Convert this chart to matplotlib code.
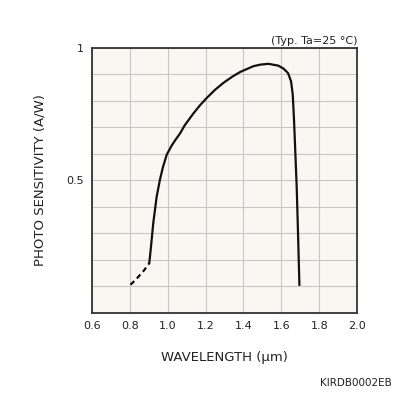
import matplotlib
matplotlib.use("Agg")
import matplotlib.pyplot as plt

# measured curve (wavelength in um, sensitivity in A/W)
dash_wl = [0.804, 0.84, 0.875, 0.903]
dash_s = [0.106, 0.132, 0.160, 0.188]

wl = [0.903, 0.912, 0.924, 0.942, 0.959, 0.975, 0.995, 1.020, 1.040, 1.065,
      1.090, 1.135, 1.170, 1.206, 1.250, 1.294, 1.340, 1.382, 1.452, 1.490,
      1.531, 1.584, 1.611, 1.635, 1.651, 1.660, 1.667, 1.674, 1.681, 1.688,
      1.695]
sens = [0.188, 0.250, 0.339, 0.439, 0.502, 0.550, 0.597, 0.630, 0.652, 0.677,
        0.708, 0.752, 0.783, 0.811, 0.842, 0.868, 0.891, 0.909, 0.931, 0.937,
        0.940, 0.933, 0.922, 0.905, 0.874, 0.824, 0.723, 0.597, 0.471, 0.295,
        0.106]

xticks = [0.6, 0.8, 1.0, 1.2, 1.4, 1.6, 1.8, 2.0]
xlabels = ["0.6", "0.8", "1.0", "1.2", "1.4", "1.6", "1.8", "2.0"]

fig = plt.figure(figsize=(3.96, 3.96), dpi=100)
ax = fig.add_axes([0.232, 0.21, 0.67, 0.669])
ax.set_facecolor("#f8f7f1")

ax.plot(dash_wl, dash_s, color="black", lw=1.5, ls=(0, (2.5, 1.8)))
ax.plot(wl, sens, color="#111111", lw=1.6, solid_joinstyle="round")

ax.set_xlim(0.6, 2.0)
ax.set_ylim(0, 1)
ax.set_xticks(xticks)
ax.set_xticklabels(xlabels)
ax.set_yticks([i / 10 for i in range(11)])
ax.set_yticklabels(["" if i not in (5, 10) else ("0.5" if i == 5 else "1") for i in range(11)])
ax.grid(True, color="#c6c6c6", lw=0.8)
ax.set_axisbelow(True)
ax.tick_params(length=0, labelsize=8, pad=6, colors="#222222")
for s in ax.spines.values():
    s.set_linewidth(1.3)
    s.set_color("#333333")

ax.set_xlabel("WAVELENGTH (μm)", fontsize=9.5, labelpad=14, color="#222222")
ax.set_ylabel("PHOTO SENSITIVITY (A/W)", fontsize=9.5, labelpad=14, color="#222222")
fig.text(0.902, 0.885, "(Typ. Ta=25 °C)", ha="right", va="bottom", fontsize=8, color="#222222")
fig.text(0.99, 0.02, "KIRDB0002EB", ha="right", va="bottom", fontsize=7.5, color="#222222")

fig.savefig("out.png", dpi=100, facecolor="white")
